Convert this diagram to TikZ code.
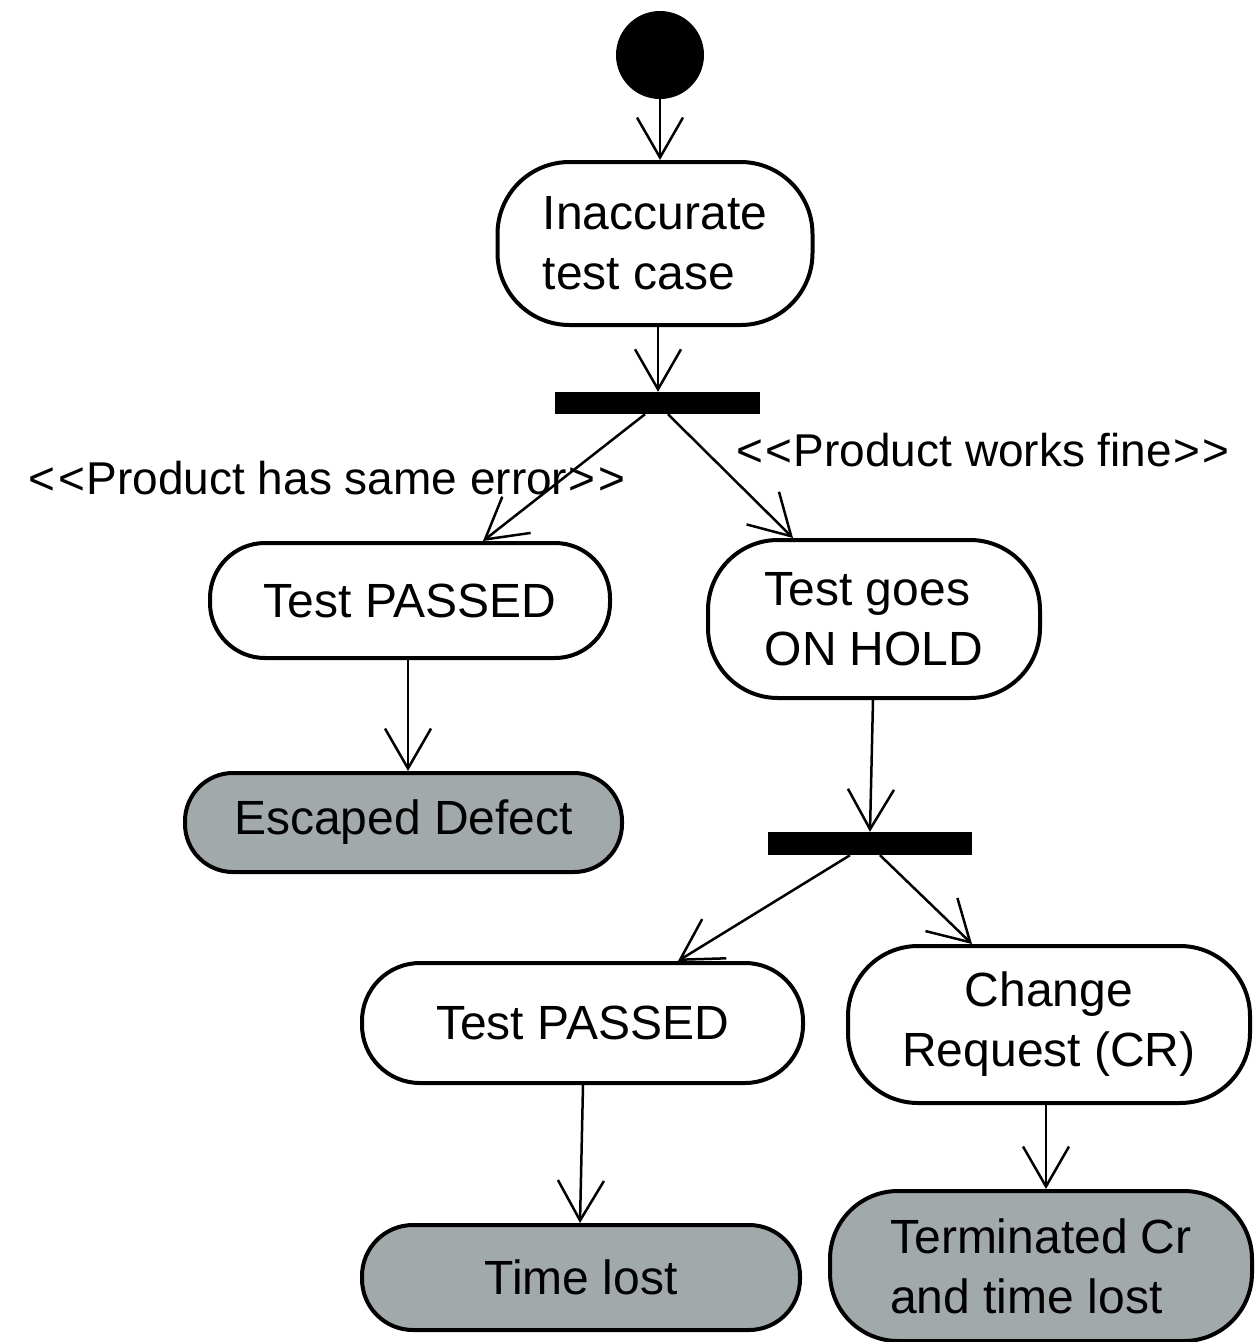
\documentclass[tikz,border=0pt]{standalone}
\usepackage{fontspec}
\setmainfont{Liberation Sans}
\usetikzlibrary{arrows.meta}
\definecolor{endgrey}{HTML}{A2A9AB}
\newcommand{\opn}{\textless\kern3pt\textless\kern1pt}
\newcommand{\cls}{\kern1pt\textgreater\kern3pt\textgreater}
\begin{document}
\begin{tikzpicture}[x=1pt,y=-1pt,
  act/.style={draw=black,line width=4pt,fill=white,inner sep=0pt,
    font=\fontsize{48}{60}\selectfont},
  fin/.style={act,fill=endgrey},
  bar/.style={fill=black,draw=none,inner sep=0pt,minimum height=22pt,minimum width=205pt},
  conn/.style={line width=2.5pt,-{Straight Barb[length=40pt,width=46pt,line width=2.5pt]}},
  lbl/.style={font=\fontsize{46}{56}\selectfont,inner sep=0pt}]
\useasboundingbox (0,0) rectangle (1254,1342);
\node[circle,fill=black,minimum size=88pt,inner sep=0pt] (start) at (660,55) {};
\node[act,minimum width=315pt,minimum height=163pt,rounded corners=72pt,align=left] (b1) at (655,243.5) {Inaccurate\\test case};
\node[bar] (bar1) at (657,403) {};
\node[act,minimum width=400pt,minimum height=115pt,rounded corners=55pt] (tp1) at (410,600.5) {Test PASSED};
\node[act,minimum width=332pt,minimum height=158pt,rounded corners=70pt,align=left] (hold) at (874,619) {Test goes\\ON HOLD};
\node[fin,minimum width=437pt,minimum height=99pt,rounded corners=48pt] (esc) at (403.5,822.5) {Escaped Defect};
\node[bar,minimum width=204pt,minimum height=23pt] (bar2) at (870,843.5) {};
\node[act,minimum width=441pt,minimum height=120pt,rounded corners=58pt] (tp2) at (582.5,1023) {Test PASSED};
\node[act,minimum width=402pt,minimum height=157pt,rounded corners=70pt,align=center] (cr) at (1049,1024.5) {Change\\Request (CR)};
\node[fin,minimum width=438pt,minimum height=105pt,rounded corners=51pt] (lost) at (581,1277.5) {Time lost};
\node[fin,minimum width=422pt,minimum height=150pt,rounded corners=68pt,align=left] (term) at (1041,1266) {Terminated Cr\\and time lost};
\node[lbl] (l1) at (327,478) {\opn Product has same error\cls};
\node[lbl] (l2) at (983,450) {\opn Product works fine\cls};
\draw[conn] (start) -- (start |- b1.north);
\draw[conn] (b1.south -| 658,0) -- (658,0 |- bar1.north);
\draw[conn] ([xshift=-12pt]bar1.south) -- ([xshift=73pt]tp1.north);
\draw[conn] ([xshift=11pt]bar1.south) -- ([xshift=-81pt]hold.north);
\draw[conn] (tp1.south -| 408,0) -- (408,0 |- esc.north);
\draw[conn] ([xshift=-1pt]hold.south) -- ([xshift=-4pt]bar2.north -| hold.south);
\draw[conn] ([xshift=-20pt]bar2.south) -- ([xshift=95.5pt]tp2.north);
\draw[conn] ([xshift=10pt]bar2.south) -- ([xshift=-77pt]cr.north);
\draw[conn] (tp2.south -| 583,0) -- (580,0 |- lost.north);
\draw[conn] (cr.south -| 1046,0) -- (1046,0 |- term.north);
\end{tikzpicture}
\end{document}
